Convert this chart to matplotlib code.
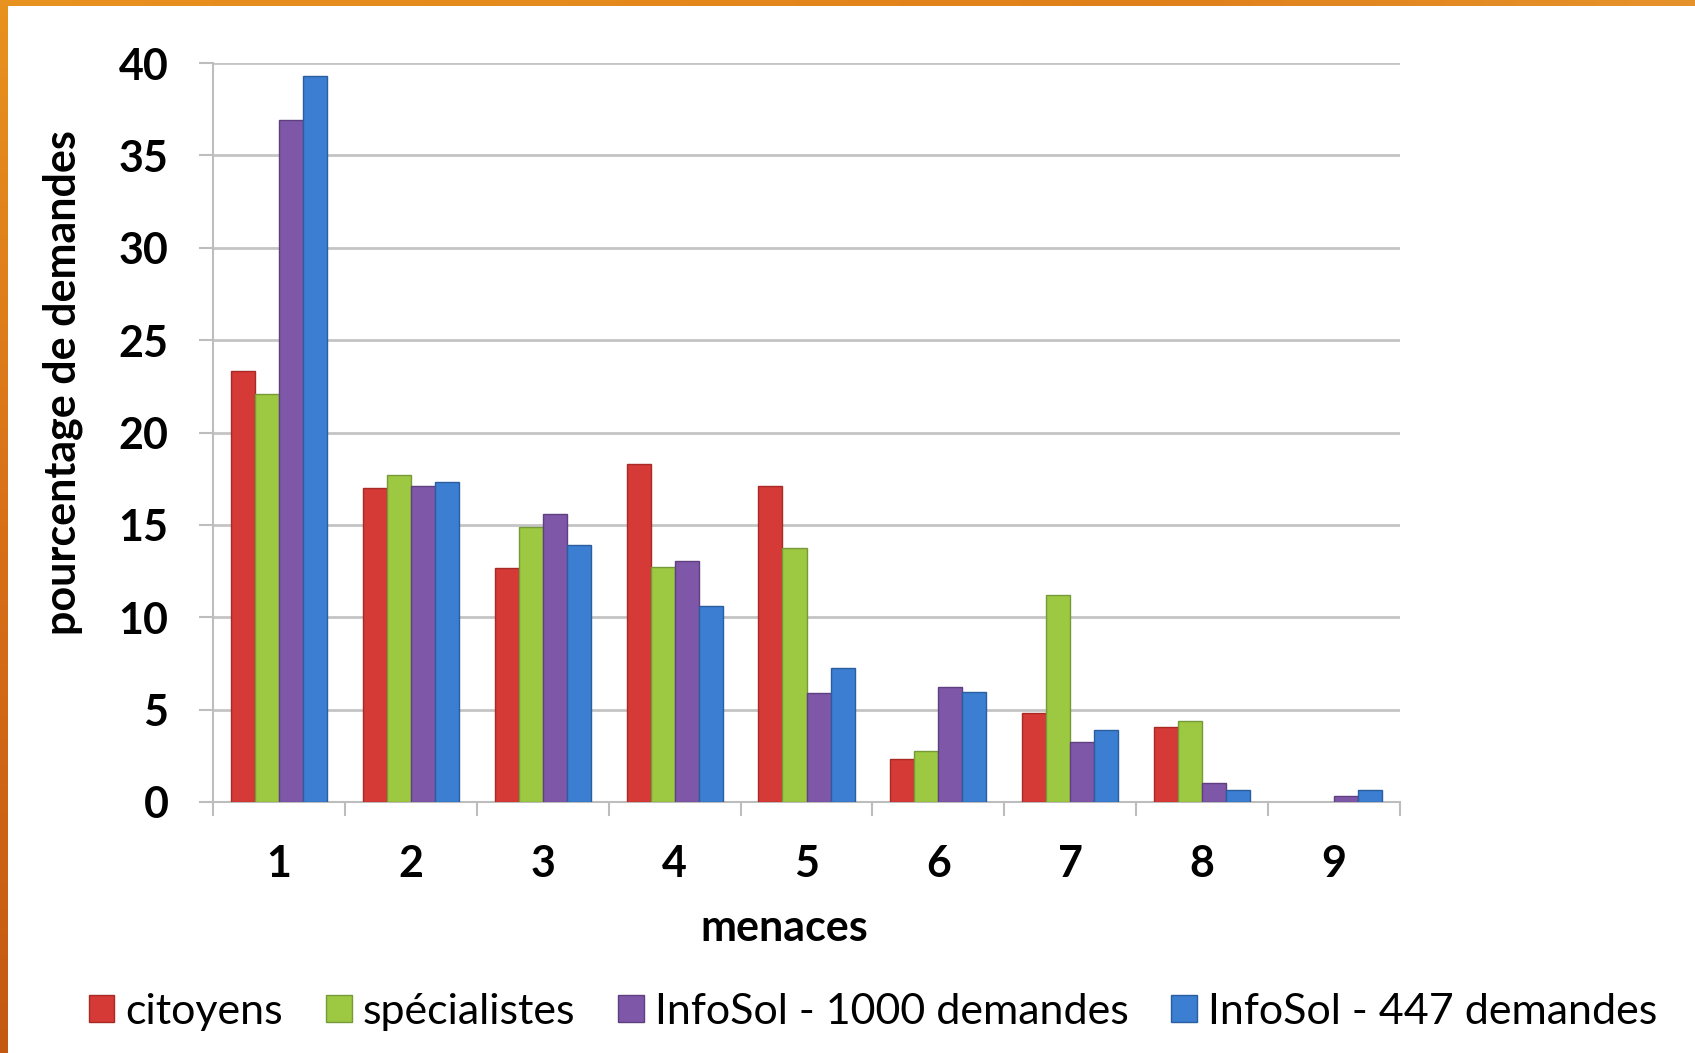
import matplotlib
matplotlib.use("Agg")
import matplotlib.pyplot as plt
import numpy as np
from matplotlib.patches import Patch
from matplotlib.colors import LinearSegmentedColormap

categories = ["1", "2", "3", "4", "5", "6", "7", "8", "9"]
series_names = ["citoyens", "spécialistes", "InfoSol - 1000 demandes", "InfoSol - 447 demandes"]
citoyens = [23.35, 17.0, 12.66, 18.3, 17.08, 2.35, 4.8, 4.07, 0.0]
specialistes = [22.1, 17.7, 14.88, 12.71, 13.74, 2.76, 11.2, 4.4, 0.0]
infosol_1000 = [36.9, 17.1, 15.6, 13.02, 5.89, 6.25, 3.27, 1.05, 0.3]
infosol_447 = [39.3, 17.3, 13.92, 10.62, 7.28, 5.94, 3.9, 0.63, 0.63]
yticks = [0, 5, 10, 15, 20, 25, 30, 35, 40]

colors = ["#D63A36", "#9DC841", "#7F57A8", "#3B7ED2"]
edges = ["#A82A26", "#76993A", "#5E3F80", "#2A5E9E"]

W, H = 1695, 1053
fig = plt.figure(figsize=(W / 100, H / 100), dpi=100)
fig.patch.set_facecolor("white")

# orange frame (left and top)
grad = np.linspace(0, 1, 256).reshape(-1, 1)
cmap = LinearSegmentedColormap.from_list("o", ["#E8921F", "#D87018", "#C45A12"])
axl = fig.add_axes([0, 0, 8 / W, 1])
axl.imshow(grad, aspect="auto", cmap=cmap)
axl.axis("off")
axt = fig.add_axes([0, 1 - 6 / H, 1, 6 / H])
axt.imshow(np.linspace(0, 1, 256).reshape(1, -1), aspect="auto",
           cmap=LinearSegmentedColormap.from_list("t", ["#E8921F", "#E58A1C", "#E0801A", "#E6922A"]))
axt.axis("off")

left, right = 213 / W, 1400 / W
bottom, top = 1 - 802 / H, 1 - 63 / H
ax = fig.add_axes([left, bottom, right - left, top - bottom])

font = "Lato"
x = np.arange(len(categories))
bw = 0.182
data = [citoyens, specialistes, infosol_1000, infosol_447]
for i, (vals, c, e) in enumerate(zip(data, colors, edges)):
    lws = [1.0 if v > 0 else 0.0 for v in vals]
    ax.bar(x + (i - 1.5) * bw, vals, width=bw, color=c, edgecolor=e, linewidth=lws, zorder=3)

ax.set_xlim(-0.5, len(categories) - 0.5)
ax.set_ylim(0, 40)
ax.set_yticks(yticks)
ax.set_yticklabels([str(t) for t in yticks], fontfamily=font, fontweight="bold", fontsize=31)
ax.yaxis.grid(True, color="#C4C4C4", linewidth=2, zorder=0)
ax.set_axisbelow(True)
ax.tick_params(axis="y", length=10, width=1.5, color="#BDBDBD", pad=22)

ax.set_xticks(np.arange(len(categories) + 1) - 0.5)
ax.set_xticklabels([])
ax.tick_params(axis="x", which="major", length=10, width=1.5, color="#BDBDBD")
ax.set_xticks(x, minor=True)
ax.set_xticklabels(categories, minor=True, fontfamily=font, fontweight="bold", fontsize=31)
ax.tick_params(axis="x", which="minor", length=0, pad=30)

for s in ["top", "right"]:
    ax.spines[s].set_visible(False)
for s in ["left", "bottom"]:
    ax.spines[s].set_color("#BDBDBD")
    ax.spines[s].set_linewidth(1.5)

fig.text(63 / W, 1 - 383 / H, "pourcentage de demandes", rotation=90, ha="center", va="center",
         fontfamily=font, fontweight="bold", fontsize=31)
fig.text(784 / W, 1 - 928 / H, "menaces", ha="center", va="center",
         fontfamily=font, fontweight="bold", fontsize=31)

handles = [Patch(facecolor=c, edgecolor=e, linewidth=1) for c, e in zip(colors, edges)]
fig.legend(handles, series_names, loc="center", bbox_to_anchor=(873 / W, 1 - 1012 / H), ncol=4,
           frameon=False, prop={"family": font, "size": 31}, handlelength=0.6, handleheight=0.6,
           handletextpad=0.25, columnspacing=1.0, borderaxespad=0, borderpad=0)

fig.savefig("out.png", dpi=100, facecolor="white")
